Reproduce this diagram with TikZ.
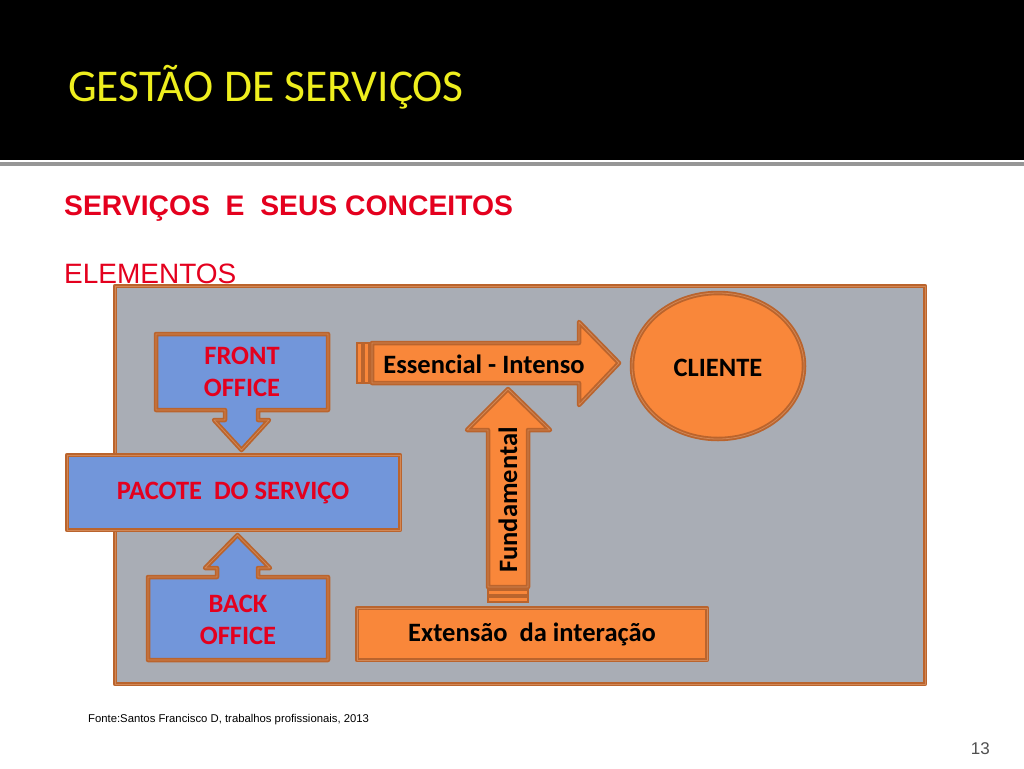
\documentclass[tikz,border=0pt]{standalone}
\usepackage{fontspec}
\setmainfont{Carlito}
\newfontfamily\arialf{Liberation Sans}
\definecolor{titley}{RGB}{238,238,30}
\definecolor{redt}{RGB}{228,0,30}
\definecolor{panel}{RGB}{169,173,181}
\definecolor{bordc}{RGB}{186,100,45}
\definecolor{bordl}{RGB}{210,135,85}
\definecolor{orangef}{RGB}{249,135,58}
\definecolor{bluef}{RGB}{114,150,218}
\definecolor{sepc}{RGB}{150,150,150}
\definecolor{numc}{RGB}{80,80,80}
\begin{document}
\begin{tikzpicture}[x=1pt,y=-1pt,
  shapebox/.style={draw=bordc,line width=4.5pt,line join=round,postaction={draw=bordl,line width=0.8pt}},
  bluebox/.style={shapebox,fill=bluef},
  orangebox/.style={shapebox,fill=orangef},
  stripe/.style={draw=bordc,line width=2.5pt,fill=orangef},
  redlabel/.style={inner sep=0pt,align=center,text=redt,font=\fontsize{26.5}{32}\selectfont\bfseries},
  blacklabel/.style={inner sep=0pt,align=center,text=black,font=\fontsize{26.5}{32}\selectfont\bfseries}]
\useasboundingbox (0,0) rectangle (1024,768);
\fill[white] (0,0) rectangle (1024,768);
% header
\fill[black] (0,0) rectangle (1024,160);
\fill[sepc] (0,162) rectangle (1024,166);
\node[anchor=base west,inner sep=0pt,text=titley,font=\fontsize{45.5}{48}\selectfont] (title) at (68,101) {GESTÃO DE SERVIÇOS};
\node[anchor=base west,inner sep=0pt,text=redt,font=\arialf\fontsize{28.3}{32}\selectfont\bfseries] (sub) at (64,215) {SERVIÇOS\ \ E\ \ SEUS CONCEITOS};
\node[anchor=base west,inner sep=0pt,text=redt,font=\arialf\fontsize{28}{32}\selectfont] (elem) at (64,283) {ELEMENTOS};
% panel
\draw[shapebox,fill=panel] (115,286) rectangle (925,684);
% front office callout
\draw[bluebox] (156,334) -- (328,334) -- (328,410) -- (258,410) -- (258,420) -- (269,420) -- (241.5,450) -- (214,420) -- (225,420) -- (225,410) -- (156,410) -- cycle;
\node[redlabel] (front) at (242,372) {FRONT\\OFFICE};
% pacote
\draw[bluebox] (67,455) rectangle (400,530);
\node[redlabel] (pacote) at (233,493) {PACOTE\ \ DO SERVIÇO};
% back office callout
\draw[bluebox] (148,577) -- (217,577) -- (217,568) -- (205,568) -- (237.5,535) -- (270,568) -- (258,568) -- (258,577) -- (328,577) -- (328,660) -- (148,660) -- cycle;
\node[redlabel] (back) at (238,620) {BACK\\OFFICE};
% essencial striped arrow
\draw[stripe] (357,343) rectangle (362,383);
\draw[stripe] (364,343) rectangle (369,383);
\draw[orangebox] (372,343) -- (579,343) -- (579,322) -- (619,363) -- (579,405) -- (579,383) -- (372,383) -- cycle;
\node[blacklabel] (ess) at (484,364) {Essencial - Intenso};
% fundamental striped arrow
\draw[stripe] (488,597) rectangle (528,602);
\draw[stripe] (488,590) rectangle (528,595);
\draw[orangebox] (488,587) -- (488,430) -- (467,430) -- (508,389) -- (550,430) -- (528,430) -- (528,587) -- cycle;
\node[blacklabel,rotate=90] (fund) at (508,500) {Fundamental};
% extensao
\draw[orangebox] (357,608) rectangle (707,660);
\node[blacklabel] (ext) at (532,634) {Extensão\ \ da interação};
% cliente
\draw[orangebox] (718,366) ellipse [x radius=86,y radius=73];
\node[blacklabel] (cli) at (718,368) {CLIENTE};
% footer
\node[anchor=base west,inner sep=0pt,font=\arialf\fontsize{11.3}{13}\selectfont] (fonte) at (88,722) {Fonte:Santos Francisco D, trabalhos profissionais, 2013};
\node[anchor=base east,inner sep=0pt,text=numc,font=\arialf\fontsize{17}{20}\selectfont] (num) at (990,754) {13};
\end{tikzpicture}
\end{document}
